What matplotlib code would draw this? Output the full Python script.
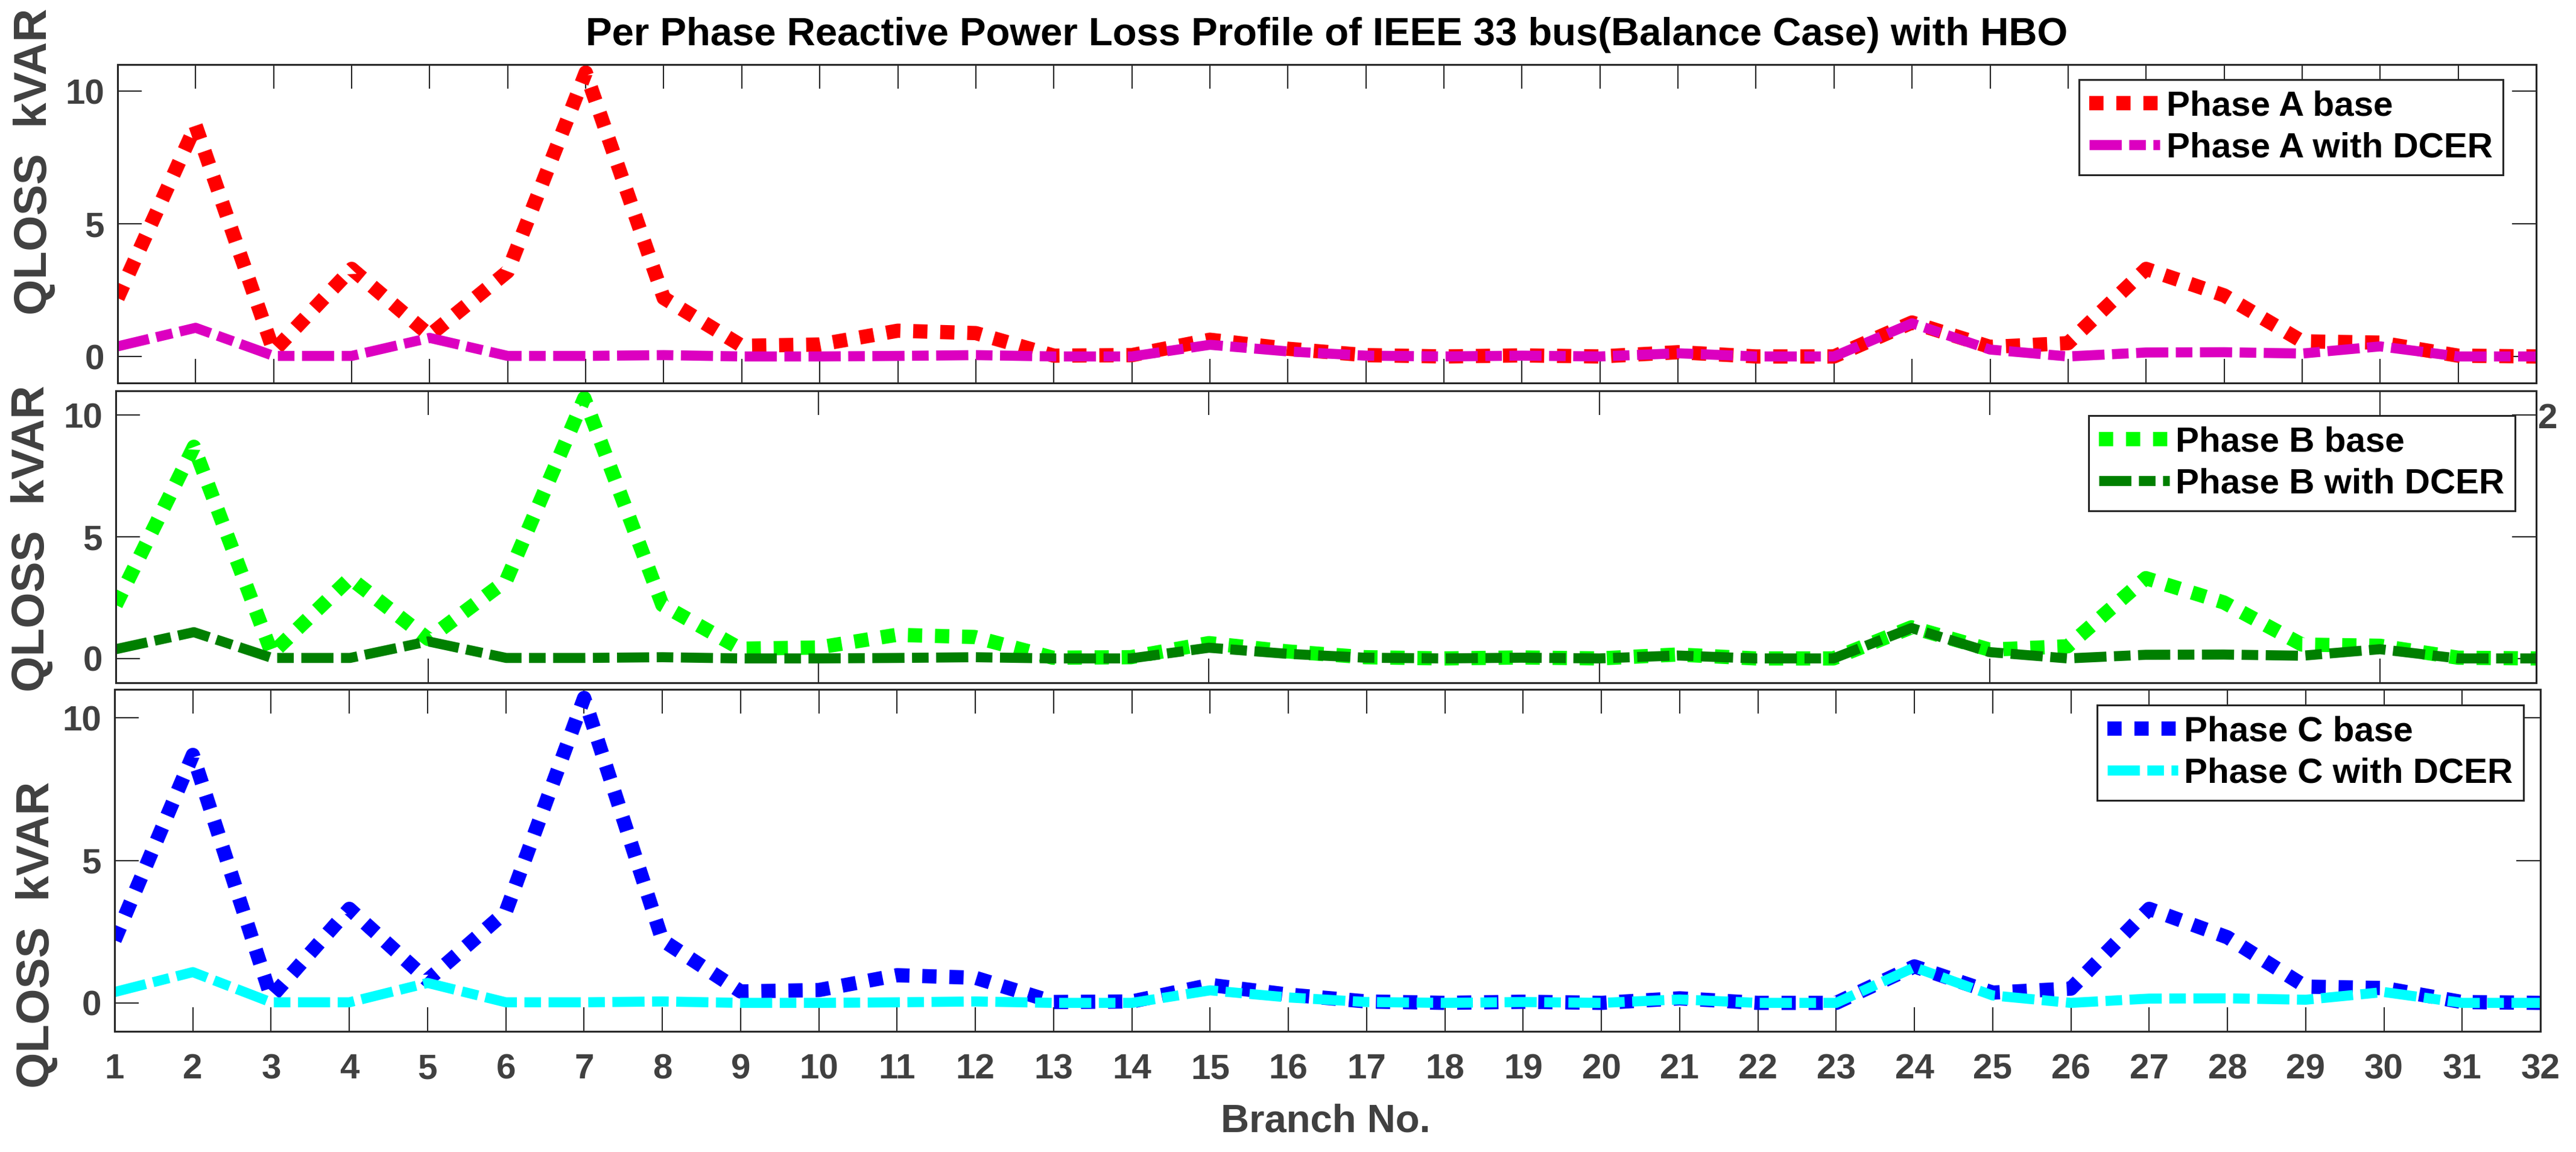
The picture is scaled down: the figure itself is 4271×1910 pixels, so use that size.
import matplotlib
matplotlib.use("Agg")
import matplotlib.pyplot as plt

plt.rcParams['font.family'] = ['Liberation Sans', 'DejaVu Sans']
plt.rcParams['font.weight'] = 'bold'

# branch numbers and per phase reactive power loss (kVAR), balanced case
branch = list(range(1, 33))
qloss_a_base = [2.2, 8.7, 0.2, 3.3, 0.8, 3.2, 10.7, 2.2, 0.4, 0.45, 0.97, 0.88,
                0.03, 0.05, 0.63, 0.29, 0.05, 0.0, 0.04, 0.0, 0.16, 0.0, 0.0, 1.28,
                0.36, 0.5, 3.3, 2.3, 0.57, 0.52, 0.03, 0.0]
qloss_a_dcer = [0.38, 1.08, 0.02, 0.02, 0.7, 0.02, 0.02, 0.05, 0.0, 0.0, 0.02, 0.05,
                0.0, 0.0, 0.44, 0.19, 0.03, 0.0, 0.03, 0.0, 0.12, 0.0, 0.0, 1.25,
                0.26, 0.0, 0.15, 0.16, 0.11, 0.38, 0.0, 0.0]
qloss_b_base = list(qloss_a_base)
qloss_b_dcer = list(qloss_a_dcer)
qloss_c_base = list(qloss_a_base)
qloss_c_dcer = list(qloss_a_dcer)

labels = [("Phase A base", "Phase A with DCER"),
          ("Phase B base", "Phase B with DCER"),
          ("Phase C base", "Phase C with DCER")]
colors = [("#ff0000", "#dc00c0"), ("#00ff00", "#007f00"), ("#0000ff", "#00ffff")]
series = [(qloss_a_base, qloss_a_dcer), (qloss_b_base, qloss_b_dcer),
          (qloss_c_base, qloss_c_dcer)]

W, H = 4271, 1910
fig = plt.figure(figsize=(W / 100, H / 100), dpi=100)

# axes boxes in pixels: left, right, top, bottom
boxes = [(195, 4205, 107, 635), (192, 4205, 648, 1132), (190, 4212, 1143, 1710)]
legend_anchor = [(4150, 132), (4170, 689), (4184, 1169)]
ylabel_pos = [(58, 268), (54, 893), (62, 1550)]

gray = "#404040"
for i, (l, r, t, b) in enumerate(boxes):
    ax = fig.add_axes([l / W, 1 - b / H, (r - l) / W, (b - t) / H])
    base, dcer = series[i]
    cb, cd = colors[i]
    ax.plot(branch, base, color=cb, lw=17, linestyle=(0, (1.0, 0.9)),
            label=labels[i][0], solid_joinstyle='round')
    ax.plot(branch, dcer, color=cd, lw=12, linestyle=(0, (3.2, 0.75, 1.65, 0.75)),
            label=labels[i][1])
    ax.set_yticks([0, 5, 10])
    if i == 1:
        ax.set_xticks(range(0, 31, 5))
    else:
        ax.set_xticks(branch)
    ax.set_xlim(1, 32)
    ax.set_ylim(-1, 11)
    ax.tick_params(direction='in', length=29, width=1.5, top=True, right=True,
                   labelsize=42, labelcolor=gray, color="#262626")
    ax.tick_params(axis='y', pad=16)
    ax.tick_params(axis='x', pad=26)
    if i < 2:
        ax.tick_params(axis='x', labelbottom=False)
    for s in ax.spines.values():
        s.set_linewidth(2.2)
        s.set_color("#262626")
    for lab in ax.get_xticklabels() + ax.get_yticklabels():
        lab.set_fontweight('bold')
    lx, ly = legend_anchor[i]
    leg = ax.legend(loc='upper right', bbox_to_anchor=(lx / W, 1 - ly / H),
                    bbox_transform=fig.transFigure, borderaxespad=0,
                    fontsize=42, handlelength=2.0, handletextpad=0.18,
                    borderpad=0.3, labelspacing=0.25, fancybox=False,
                    framealpha=1, edgecolor="#262626")
    leg.get_frame().set_linewidth(2.2)
    px, py = ylabel_pos[i]
    fig.text(px / W, 1 - py / H, "QLOSS  kVAR", rotation=90, ha='center',
             va='center', fontsize=55, color=gray, fontweight='bold')

fig.text(2200 / W, 1 - 58 / H,
         "Per Phase Reactive Power Loss Profile of IEEE 33 bus(Balance Case) with HBO",
         ha='center', va='center', fontsize=47, fontweight='bold', color='black')
fig.text(2198 / W, 1 - 1859 / H, "Branch No.", ha='center', va='center',
         fontsize=47, fontweight='bold', color=gray)
# stray tick label at the right edge of the middle panel
fig.text(4208 / W, 1 - 695 / H, "2", ha='left', va='center', fontsize=42,
         fontweight='bold', color=gray)

fig.savefig("out.png", dpi=100, facecolor='white')
